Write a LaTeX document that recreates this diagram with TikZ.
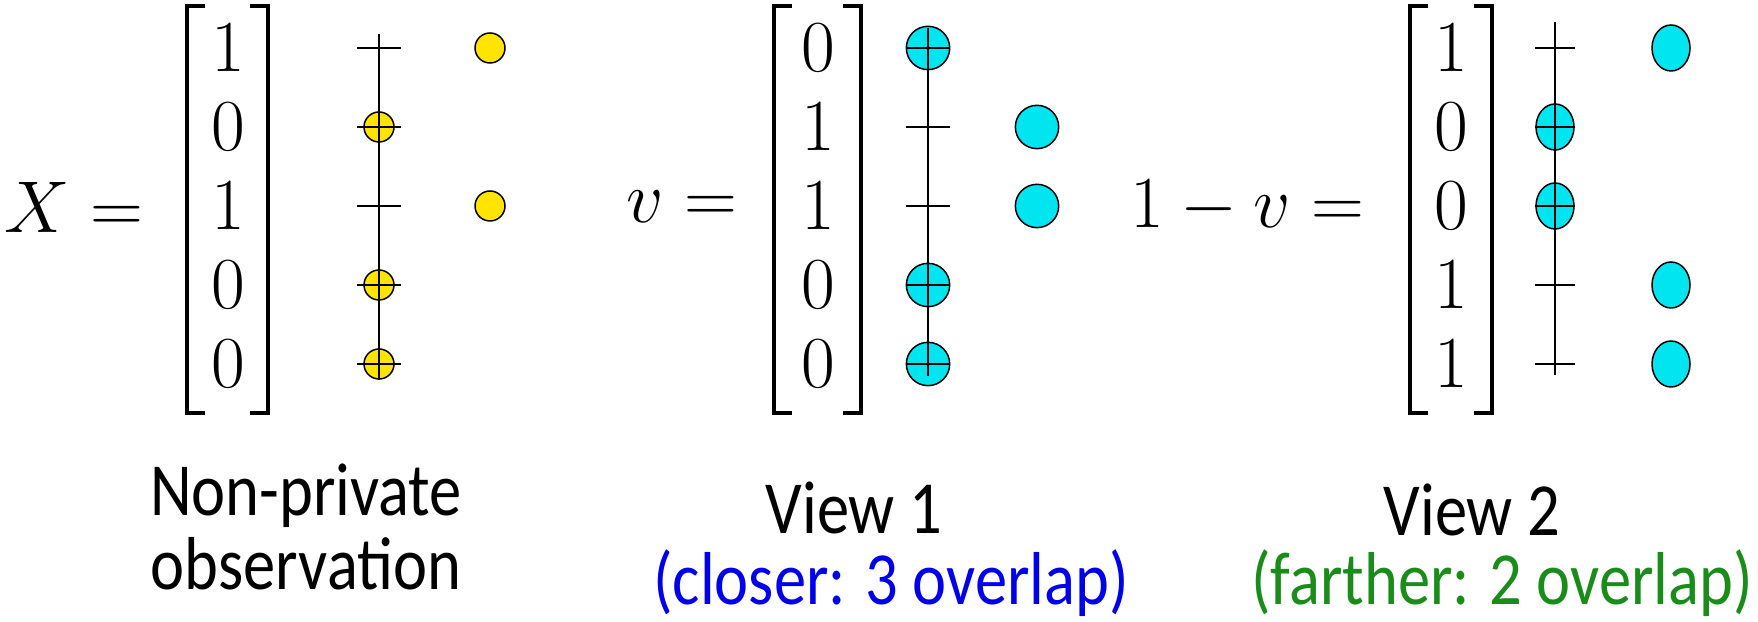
\RequirePackage{fix-cm}
\documentclass[tikz,border=0pt]{standalone}
\usepackage{fontspec}
\setmainfont{Carlito}[FakeStretch=0.86]
\usetikzlibrary{shapes.geometric}
\definecolor{dotyellow}{RGB}{255,228,0}
\definecolor{dotcyan}{RGB}{0,229,240}
\definecolor{closeblue}{RGB}{0,0,235}
\definecolor{fargreen}{RGB}{25,140,25}
\newcommand{\mathsize}{\fontsize{22}{26}\selectfont}
\newcommand{\capsize}{\fontsize{22.5}{26}\selectfont}
\tikzset{
  entry/.style    = {inner sep=0pt,font=\mathsize},
  lhs/.style      = {inner sep=0pt,anchor=east,font=\mathsize},
  bracket/.style  = {line width=1.3pt},
  axis/.style     = {line width=0.8pt},
  tickmark/.style = {line width=0.55pt},
  ydot/.style     = {circle,draw,line width=0.45pt,fill=dotyellow,
                     minimum size=9pt,inner sep=0pt},
  cdot/.style     = {circle,draw,line width=0.45pt,fill=dotcyan,
                     minimum size=13pt,inner sep=0pt},
  edot/.style     = {ellipse,draw,line width=0.45pt,fill=dotcyan,
                     minimum width=11.4pt,minimum height=13.8pt,inner sep=0pt},
  caption/.style  = {font=\capsize,anchor=base,inner sep=0pt,
                     text height=0.7em,text depth=0.18em},
}

\begin{document}
\begin{tikzpicture}[x=0.3pt,y=-0.3pt]
  \useasboundingbox (0,0) rectangle (1758,622);

  % non-private observation X
  \node[lhs] (lhsX) at (144,207) {$X =$};
  \foreach \v [count=\i] in {1,0,1,0,0}
    \node[entry] (X\i) at (228,{48+79*(\i-1)}) {$\v$};
  \draw[bracket] (205,6) -| (187,413) -- (205,413);
  \draw[bracket] (250,6) -| (268,413) -- (250,413);
  \coordinate (Xtop) at (379,34);
  \coordinate (Xbot) at (379,380);
  \foreach \v [count=\i] in {1,0,1,0,0} {
    \ifnum\v=0 \node[ydot] (Xd\i) at (X\i -| Xtop) {};
    \else \node[ydot] (Xd\i) at ([xshift=33.3pt]X\i -| Xtop) {}; \fi
  }
  \draw[axis] (Xtop) -- (Xbot);
  \foreach \i in {1,...,5}
    \draw[tickmark] (X\i -| Xtop) ++(-22,0) -- ++(44,0);

  % view 1: v
  \node[lhs] (lhsV) at (738,207) {$v =$};
  \foreach \v [count=\i] in {0,1,1,0,0}
    \node[entry] (V\i) at (818,{48+79*(\i-1)}) {$\v$};
  \draw[bracket] (792,6) -| (774,413) -- (792,413);
  \draw[bracket] (843,6) -| (861,413) -- (843,413);
  \coordinate (Vtop) at (928,28);
  \coordinate (Vbot) at (928,376);
  \foreach \v [count=\i] in {0,1,1,0,0} {
    \ifnum\v=0 \node[cdot] (Vd\i) at (V\i -| Vtop) {};
    \else \node[cdot] (Vd\i) at ([xshift=32.7pt]V\i -| Vtop) {}; \fi
  }
  \draw[axis] (Vtop) -- (Vbot);
  \foreach \i in {1,...,5}
    \draw[tickmark] (V\i -| Vtop) ++(-22,0) -- ++(44,0);

  % view 2: 1-v
  \node[lhs] (lhsW) at (1365,207) {$1 - v =$};
  \foreach \v [count=\i] in {1,0,0,1,1}
    \node[entry] (W\i) at (1451,{48+79*(\i-1)}) {$\v$};
  \draw[bracket] (1428,6) -| (1410,413) -- (1428,413);
  \draw[bracket] (1474,6) -| (1492,413) -- (1474,413);
  \coordinate (Wtop) at (1555,22);
  \coordinate (Wbot) at (1555,375);
  \foreach \v [count=\i] in {1,0,0,1,1} {
    \ifnum\v=0 \node[edot] (Wd\i) at (W\i -| Wtop) {};
    \else \node[edot] (Wd\i) at ([xshift=34.8pt]W\i -| Wtop) {}; \fi
  }
  \draw[axis] (Wtop) -- (Wbot);
  \foreach \i in {1,...,5}
    \draw[tickmark] (W\i -| Wtop) ++(-20,0) -- ++(40,0);

  % captions
  \node[caption] (capX) at (306,516) {Non-private};
  \node[caption] (capXb) at (306,590) {observation};
  \node[caption] (capV) at (854,534) {View 1};
  \node[caption,text=closeblue] (capVb) at (891,605) {(closer: 3 overlap)};
  \node[caption] (capW) at (1472,536) {View 2};
  \node[caption,text=fargreen] (capWb) at (1502,605) {(farther: 2 overlap)};
\end{tikzpicture}
\end{document}
